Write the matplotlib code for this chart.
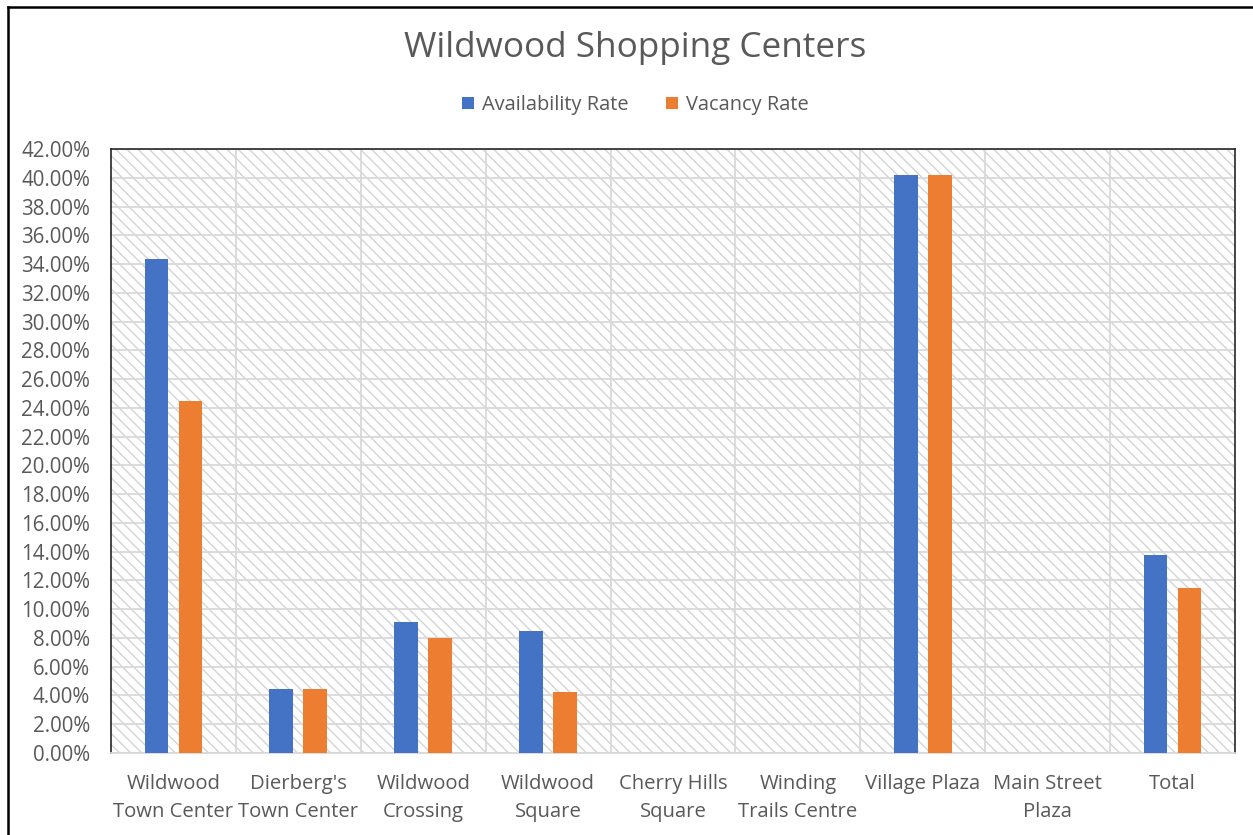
import matplotlib.pyplot as plt
from matplotlib.patches import Rectangle
from matplotlib.lines import Line2D
from matplotlib.ticker import FuncFormatter, MultipleLocator
import numpy as np

plt.rcParams['font.family'] = ['Open Sans', 'DejaVu Sans']
plt.rcParams['hatch.linewidth'] = 1.0
plt.rcParams['hatch.color'] = '#d4d4d4'

# data
centers = ["Wildwood\nTown Center", "Dierberg's\nTown Center", "Wildwood\nCrossing",
           "Wildwood\nSquare", "Cherry Hills\nSquare", "Winding\nTrails Centre",
           "Village Plaza", "Main Street\nPlaza", "Total"]
availability = [34.35, 4.45, 9.1, 8.5, 0, 0, 40.2, 0, 13.8]
vacancy = [24.5, 4.45, 8.0, 4.25, 0, 0, 40.2, 0, 11.5]

blue = '#4472C4'
orange = '#ED7D31'
txt = '#595959'

fig = plt.figure(figsize=(12.53, 8.35), dpi=100)
ax = fig.add_axes([111 / 1253, 1 - 753 / 835, 1124 / 1253, 604 / 835])

# hatched plot background
ax.add_patch(Rectangle((0, 0), 1, 1, transform=ax.transAxes, facecolor='white',
                       edgecolor='#d4d4d4', hatch='\\\\\\', lw=0, zorder=0))

x = np.arange(len(centers))
w = 0.19
ax.bar(x - 0.136, availability, w, color=blue, label='Availability Rate', zorder=3)
ax.bar(x + 0.136, vacancy, w, color=orange, label='Vacancy Rate', zorder=3)

ax.set_xlim(-0.5, len(centers) - 0.5)
ax.set_ylim(0, 42)
ax.yaxis.set_major_locator(MultipleLocator(2))
ax.yaxis.set_major_formatter(FuncFormatter(lambda v, p: f"{v:.2f}%"))
ax.set_xticks(x)
ax.set_xticklabels(centers, fontsize=14.6, color=txt, linespacing=1.55)
ax.set_xticks(np.arange(0.5, len(centers) - 0.5), minor=True)
ax.tick_params(axis='y', labelsize=14.8, colors=txt, length=0, pad=15)
ax.tick_params(axis='x', which='both', length=0, pad=15)
ax.grid(axis='y', color='#d9d9d9', lw=1.3, zorder=1)
ax.grid(axis='x', which='minor', color='#d9d9d9', lw=1.3, zorder=1)
ax.set_axisbelow(True)

for s in ['left', 'top', 'right']:
    ax.spines[s].set_color('#262626')
    ax.spines[s].set_linewidth(1.2)
ax.spines['bottom'].set_color('#d9d9d9')
ax.spines['bottom'].set_linewidth(1.3)

fig.text(0.507, 1 - 48 / 835, "Wildwood Shopping Centers", ha='center', va='center',
         fontsize=25.3, color=txt)
fig.legend(loc='center', bbox_to_anchor=(0.507, 1 - 105 / 835), ncol=2, frameon=False,
           fontsize=14.4, labelcolor=txt, handlelength=0.6, handleheight=0.6,
           handletextpad=0.4, columnspacing=1.9)

# outer chart border (left and top edges)
fig.add_artist(Line2D([7.5 / 1253, 7.5 / 1253], [0, 1 - 6.5 / 835], color='black', lw=1.8,
                      transform=fig.transFigure))
fig.add_artist(Line2D([7.5 / 1253, 1], [1 - 6.5 / 835, 1 - 6.5 / 835], color='black', lw=1.8,
                      transform=fig.transFigure))

fig.savefig('out.png', dpi=100)
